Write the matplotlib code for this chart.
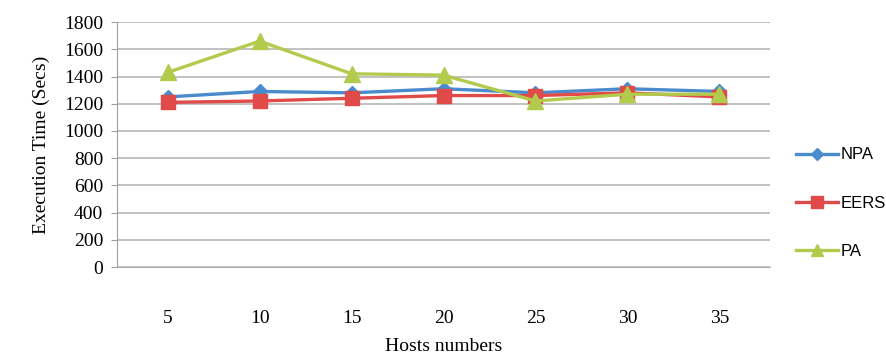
import matplotlib
matplotlib.use("Agg")
import matplotlib.pyplot as plt

hosts = [5, 10, 15, 20, 25, 30, 35]
npa = [1250, 1290, 1280, 1310, 1280, 1310, 1290]
eers = [1210, 1220, 1240, 1260, 1260, 1280, 1250]
pa = [1430, 1660, 1420, 1410, 1220, 1270, 1270]
yticks = list(range(0, 1801, 200))

serif = "Liberation Serif"

fig = plt.figure(figsize=(8.87, 3.56), dpi=100)
ax = fig.add_axes([0.132, 0.25, 0.736, 0.688])

x = list(range(len(hosts)))
ax.plot(x, npa, color="#4a8bcd", lw=2.4, marker="D", ms=7, label="NPA")
ax.plot(x, eers, color="#e04a48", lw=2.4, marker="s", ms=10, label="EERS")
ax.plot(x, pa, color="#b3cb4c", lw=2.4, marker="^", ms=11, label="PA")

ax.set_xlim(-0.55, len(hosts) - 0.45)
ax.set_ylim(0, 1800)
ax.set_yticks(yticks)
ax.set_xticks(x)
ax.set_xticklabels([str(h) for h in hosts], fontfamily=serif, fontsize=14)
ax.set_yticklabels([str(v) for v in yticks], fontfamily=serif, fontsize=14)
ax.yaxis.grid(True, color="#b0b0b0", lw=1.1)
ax.set_axisbelow(True)
for s in ["top", "right"]:
    ax.spines[s].set_visible(False)
ax.spines["left"].set_color("#a0a0a0")
ax.spines["bottom"].set_color("#b0b0b0")
ax.tick_params(axis="y", length=4, color="#a0a0a0", pad=6)
ax.tick_params(axis="x", length=0, pad=31)

ax.set_xlabel("Hosts numbers", fontfamily=serif, fontsize=14, labelpad=8)
ax.set_ylabel("Execution Time (Secs)", fontfamily=serif, fontsize=14, labelpad=10)

ax.legend(loc="center left", bbox_to_anchor=(1.04, 0.26), frameon=False,
          prop={"family": "Liberation Sans", "size": 12},
          labelspacing=2.0, handlelength=2.5, handletextpad=0.15,
          borderaxespad=0, borderpad=0, markerscale=0.85)

fig.savefig("out.png", dpi=100)
